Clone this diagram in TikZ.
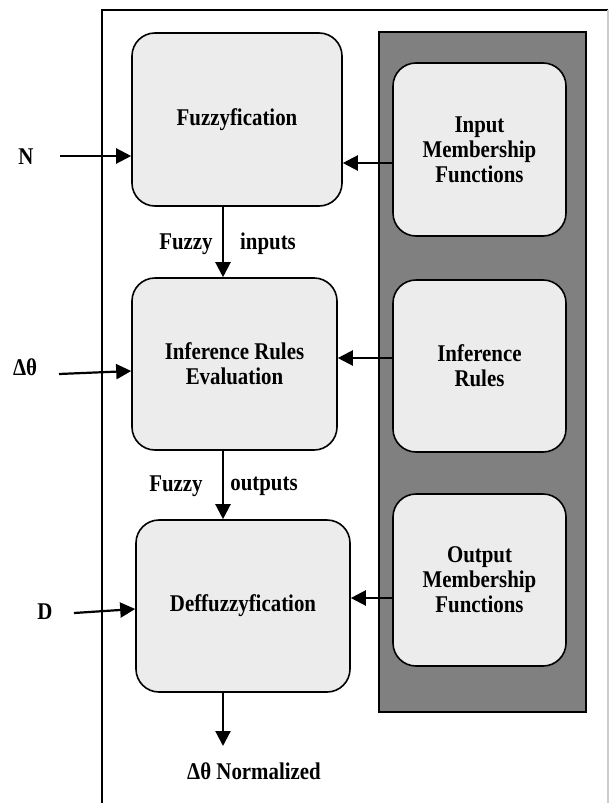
\documentclass[tikz,border=0pt]{standalone}
\usepackage{fontspec}
\setmainfont{Liberation Serif}
\newfontfamily\narrowserif[FakeStretch=0.87]{Liberation Serif}
\usetikzlibrary{arrows.meta}

\begin{document}
\begin{tikzpicture}[x=0.5pt,y=-0.5pt,
        block/.style={draw, line width=0.8pt, fill=gray!15, rounded corners=11.5pt,
                align=center, inner sep=0pt, font=\narrowserif\fontsize{12}{12.5}\selectfont\bfseries},
        arr/.style={-{Triangle[length=7.5pt,width=7.5pt]}, line width=1.1pt},
        lbl/.style={inner sep=0pt, font=\narrowserif\fontsize{12}{12.5}\selectfont\bfseries}]
                \useasboundingbox (0,0) rectangle (609,803);

                % outer frame
                \draw[line width=0.6pt] (102,803) -- (102,10) -- (608,10);
                \draw[gray!40, line width=0.6pt] (608,10) -- (608,803);

                % knowledge base panel
                \draw[line width=1pt, fill=gray] (379,32) rectangle (586,712);

                % main chain
                \node[block, minimum width=105pt, minimum height=86.5pt] (fuzz) at (237,119.5) {Fuzzyfication};
                \node[block, minimum width=102.5pt, minimum height=86pt] (ire) at (234.5,364) {Inference Rules\\Evaluation};
                \node[block, minimum width=107pt, minimum height=86pt] (deff) at (243,606) {Deffuzzyfication};

                % knowledge boxes
                \node[block, minimum width=86.5pt, minimum height=86.5pt] (inmf) at (479.5,149.5) {Input\\Membership\\Functions};
                \node[block, minimum width=86.5pt, minimum height=86pt] (rules) at (479.5,366) {Inference\\Rules};
                \node[block, minimum width=86.5pt, minimum height=86pt] (outmf) at (479.5,580) {Output\\Membership\\Functions};

                % inputs
                \node[lbl] (nlbl) at (26,157) {N};
                \node[lbl] (dtlbl) at (25,367) {Δθ};
                \node[lbl] (dlbl) at (45,612) {D};
                \coordinate (nin) at (60,156);
                \coordinate (dtin) at (59,374);
                \coordinate (din) at (74,613);
                \draw[arr] (nin) -- (nin -| fuzz.west);
                \draw[arr] (dtin) -- ([yshift=-3.5pt]ire.west);
                \draw[arr] (din) -- ([yshift=-1.5pt]deff.west);

                % from knowledge base
                \draw[arr] ([yshift=-6.75pt]inmf.west) coordinate (a1) -- (a1 -| fuzz.east);
                \draw[arr] ([yshift=4pt]rules.west) coordinate (a2) -- (a2 -| ire.east);
                \draw[arr] ([yshift=-9pt]outmf.west) coordinate (a3) -- (a3 -| deff.east);

                % down the chain
                \draw[arr] ([xshift=-7pt]fuzz.south) coordinate (b1) -- (b1 |- ire.north);
                \draw[arr] ([xshift=-5.75pt]ire.south) coordinate (b2) -- (b2 |- deff.north);
                \coordinate (out) at (223,746);
                \draw[arr] (out |- deff.south) -- (out);

                \node[lbl] (fin1) at (186,244) {Fuzzy};
                \node[lbl] (fin2) at (268,244) {inputs};
                \node[lbl] (fout1) at (176,486) {Fuzzy};
                \node[lbl] (fout2) at (264,486) {outputs};
                \node[lbl] (norm) at (254,771) {Δθ Normalized};
            \end{tikzpicture}
\end{document}
